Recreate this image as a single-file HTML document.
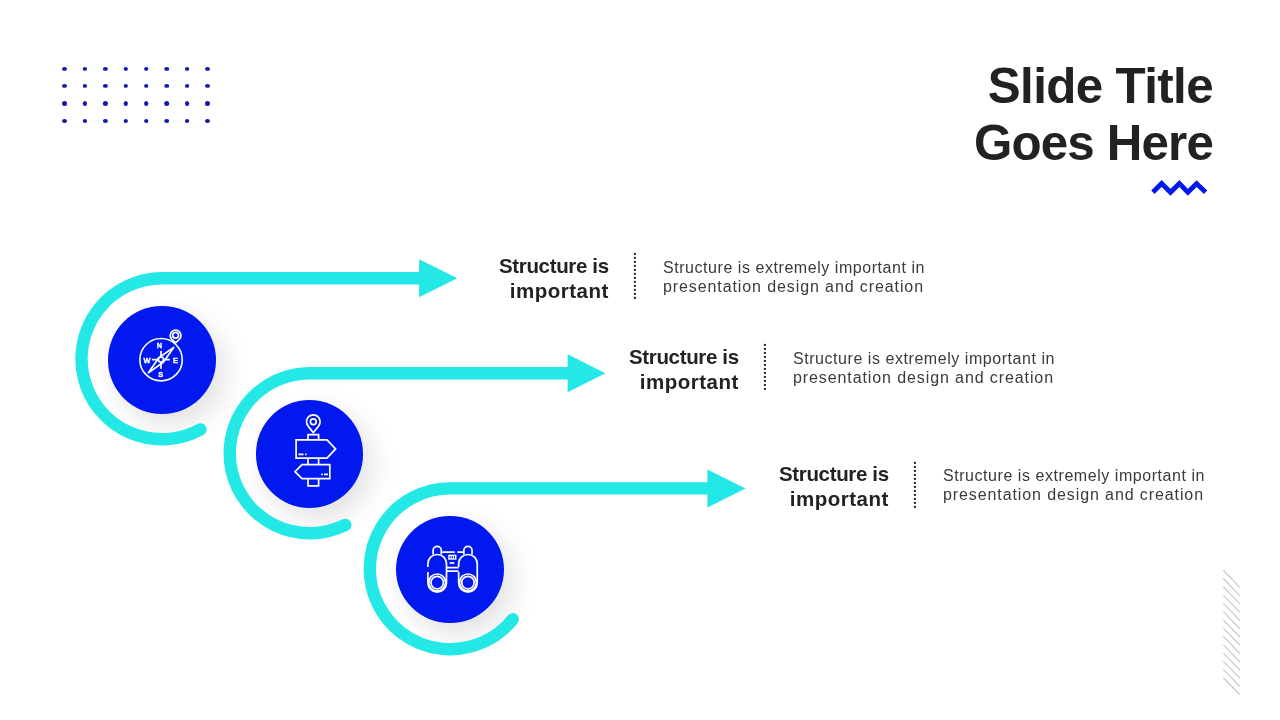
<!DOCTYPE html>
<html><head><meta charset="utf-8">
<style>
html,body{margin:0;padding:0;background:#fff;}
body{width:1280px;height:720px;position:relative;overflow:hidden;font-family:"Liberation Sans",sans-serif;}
.title,.bold,.reg{will-change:transform;}
.title{position:absolute;right:67.5px;top:57.4px;text-align:right;font-weight:bold;font-size:49.3px;line-height:57.2px;letter-spacing:-0.85px;color:#222;white-space:nowrap;}
.circ{position:absolute;width:107.5px;height:107.5px;border-radius:50%;background:#0119ee;box-shadow:9px 11px 28px rgba(0,0,0,0.12);}
.bold{position:absolute;text-align:right;font-weight:bold;font-size:20.5px;line-height:25.4px;color:#222;white-space:nowrap;}
.reg{position:absolute;font-size:16px;line-height:18.6px;color:#3a3a3a;white-space:nowrap;}
svg{position:absolute;left:0;top:0;}
</style></head>
<body>
<!-- dots grid -->
<svg width="1280" height="720" style="z-index:0">
  <g fill="#1317aa"><ellipse cx="64.5" cy="68.9" rx="2.5" ry="1.9"/><ellipse cx="84.9" cy="68.9" rx="2.1" ry="1.9"/><ellipse cx="105.4" cy="68.9" rx="2.5" ry="1.9"/><ellipse cx="125.8" cy="68.9" rx="2.1" ry="1.9"/><ellipse cx="146.2" cy="68.9" rx="2.1" ry="1.9"/><ellipse cx="166.7" cy="68.9" rx="2.5" ry="1.9"/><ellipse cx="187.1" cy="68.9" rx="2.1" ry="1.9"/><ellipse cx="207.5" cy="68.9" rx="2.5" ry="1.9"/><ellipse cx="64.5" cy="85.9" rx="2.5" ry="1.9"/><ellipse cx="84.9" cy="85.9" rx="2.1" ry="1.9"/><ellipse cx="105.4" cy="85.9" rx="2.5" ry="1.9"/><ellipse cx="125.8" cy="85.9" rx="2.1" ry="1.9"/><ellipse cx="146.2" cy="85.9" rx="2.1" ry="1.9"/><ellipse cx="166.7" cy="85.9" rx="2.5" ry="1.9"/><ellipse cx="187.1" cy="85.9" rx="2.1" ry="1.9"/><ellipse cx="207.5" cy="85.9" rx="2.5" ry="1.9"/><ellipse cx="64.5" cy="103.5" rx="2.5" ry="2.5"/><ellipse cx="84.9" cy="103.5" rx="2.1" ry="2.5"/><ellipse cx="105.4" cy="103.5" rx="2.5" ry="2.5"/><ellipse cx="125.8" cy="103.5" rx="2.1" ry="2.5"/><ellipse cx="146.2" cy="103.5" rx="2.1" ry="2.5"/><ellipse cx="166.7" cy="103.5" rx="2.5" ry="2.5"/><ellipse cx="187.1" cy="103.5" rx="2.1" ry="2.5"/><ellipse cx="207.5" cy="103.5" rx="2.5" ry="2.5"/><ellipse cx="64.5" cy="121.0" rx="2.5" ry="1.9"/><ellipse cx="84.9" cy="121.0" rx="2.1" ry="1.9"/><ellipse cx="105.4" cy="121.0" rx="2.5" ry="1.9"/><ellipse cx="125.8" cy="121.0" rx="2.1" ry="1.9"/><ellipse cx="146.2" cy="121.0" rx="2.1" ry="1.9"/><ellipse cx="166.7" cy="121.0" rx="2.5" ry="1.9"/><ellipse cx="187.1" cy="121.0" rx="2.1" ry="1.9"/><ellipse cx="207.5" cy="121.0" rx="2.5" ry="1.9"/></g>
  <!-- hatch -->
  <g stroke="#c9cdcd" stroke-width="1.3"><line x1="1223.3" y1="570.30" x2="1239.8" y2="587.40"/><line x1="1223.3" y1="578.56" x2="1239.8" y2="595.66"/><line x1="1223.3" y1="586.82" x2="1239.8" y2="603.92"/><line x1="1223.3" y1="595.08" x2="1239.8" y2="612.18"/><line x1="1223.3" y1="603.34" x2="1239.8" y2="620.44"/><line x1="1223.3" y1="611.60" x2="1239.8" y2="628.70"/><line x1="1223.3" y1="619.86" x2="1239.8" y2="636.96"/><line x1="1223.3" y1="628.12" x2="1239.8" y2="645.22"/><line x1="1223.3" y1="636.38" x2="1239.8" y2="653.48"/><line x1="1223.3" y1="644.64" x2="1239.8" y2="661.74"/><line x1="1223.3" y1="652.90" x2="1239.8" y2="670.00"/><line x1="1223.3" y1="661.16" x2="1239.8" y2="678.26"/><line x1="1223.3" y1="669.42" x2="1239.8" y2="686.52"/><line x1="1223.3" y1="677.68" x2="1239.8" y2="694.78"/></g>
  <!-- zigzag -->
  <polyline points="1152.9,192.2 1161.6,183.5 1170.5,192.3 1179.4,183.5 1187.9,192.3 1196.6,183.5 1205.6,192.2" fill="none" stroke="#0119ee" stroke-width="4.8" stroke-linejoin="miter"/>
</svg>

<div class="title"><span style="letter-spacing:-0.62px">Slide Title</span><br>Goes Here</div>

<div class="circ" style="left:108px;top:306.1px"></div>
<div class="circ" style="left:255.5px;top:400.2px"></div>
<div class="circ" style="left:396.3px;top:515.9px"></div>
<svg width="1280" height="720">
  <path d="M200.41,429.54 A80.5,80.5 0 1 1 162.00,278.30 L421.10,278.30" fill="none" stroke="#24e8e5" stroke-width="12.4" stroke-linecap="round"/>
  <polygon points="419.10,259.30 457.30,278.30 419.10,297.30" fill="#24e8e5"/>
  <path d="M345.27,524.91 A80,80 0 1 1 309.70,373.25 L569.60,373.25" fill="none" stroke="#24e8e5" stroke-width="12.4" stroke-linecap="round"/>
  <polygon points="567.60,354.25 605.40,373.25 567.60,392.25" fill="#24e8e5"/>
  <path d="M512.77,619.29 A80.4,80.4 0 1 1 450.20,488.40 L709.40,488.40" fill="none" stroke="#24e8e5" stroke-width="12.4" stroke-linecap="round"/>
  <polygon points="707.40,469.40 745.60,488.40 707.40,507.40" fill="#24e8e5"/>
</svg>

<svg width="1280" height="720" style="z-index:2" fill="none" stroke="#fff" stroke-width="1.7">
  <!-- compass -->
  <g><circle cx="161.05" cy="359.7" r="21.2" stroke-width="1.6"/><circle cx="160.9" cy="359.6" r="2.6"/><path d="M148.4,372.7 L158.8,357.8 L173.7,347.4 L163.3,362.3 Z" stroke-linejoin="round"/><path d="M161,350.9 V356 M161,363.2 V368.8 M151.9,359.7 H157.5 M164.2,359.7 H169.8"/><g fill="#fff" stroke="#fff" stroke-width="0.35" font-family="Liberation Sans" font-weight="bold" font-size="7.4" text-anchor="middle"><text x="159.5" y="348.1">N</text><text x="175.5" y="362.9">E</text><text x="160.6" y="377.3">S</text><text x="146.9" y="362.5">W</text></g><path d="M175.60,342.90 L171.91,339.44 A5.4,5.4 0 1 1 179.29,339.44 Z" stroke-linejoin="round"/><circle cx="175.6" cy="335.3" r="2.9"/></g>
  <g><path d="M313.30,432.70 L307.95,425.90 A6.8,6.8 0 1 1 318.65,425.90 Z" stroke-linejoin="round"/><circle cx="313.3" cy="421.7" r="2.9"/><path d="M308,439.9 V434.7 H318.6 V439.9"/><path d="M296.1,439.9 H327 L335.6,448.9 L327,458.1 H296.1 Z" stroke-linejoin="miter"/><path d="M308,458.1 V464.7 M318.6,458.1 V464.7"/><path d="M302,464.7 H329.8 V478.6 H302 L295,471.7 Z" stroke-linejoin="miter"/><path d="M308,478.6 V485.9 H318.6 V478.6"/><path d="M298.5,454.4 H303.5 M305,454.4 H306.5 M321.2,474.4 H322.7 M324,474.4 H328"/></g>
  <g><path d="M427.90,566.9 V563.8 A9.3,9.3 0 0 1 446.50,563.8 V582.8 A9.3,9.3 0 0 1 427.90,582.8 V571.9"/><circle cx="437.2" cy="582.4" r="8.4"/><circle cx="437.2" cy="582.6" r="6.2"/><path d="M433.10,554.5 V550.4 A4.1,4.1 0 0 1 441.30,550.4 V554.5"/><path d="M458.65,566.9 V563.8 A9.3,9.3 0 0 1 477.25,563.8 V582.8 A9.3,9.3 0 0 1 458.65,582.8 V571.9"/><circle cx="467.95" cy="582.4" r="8.4"/><circle cx="467.95" cy="582.6" r="6.2"/><path d="M463.85,554.5 V550.4 A4.1,4.1 0 0 1 472.05,550.4 V554.5"/><path d="M442.3,552.1 H454.7 M457.4,552.1 H463.5"/><rect x="448.9" y="555.4" width="6.8" height="3.6" stroke-width="1.4"/><path d="M451.2,555.4 V559 M453.4,555.4 V559" stroke-width="1"/><path d="M449.7,563 H454.3"/><path d="M446.5,567.7 H458.6 M446.5,571.2 H458.6"/></g>
</svg>

<div class="bold" style="right:671px;top:253.3px"><span style="letter-spacing:-0.35px">Structure is</span><br><span style="letter-spacing:0.5px">important</span></div>
<div class="reg" style="left:663px;top:259.4px"><span style="letter-spacing:0.55px">Structure is extremely important in</span><br><span style="letter-spacing:0.9px">presentation design and creation</span></div>

<div class="bold" style="right:541px;top:344.1px"><span style="letter-spacing:-0.35px">Structure is</span><br><span style="letter-spacing:0.5px">important</span></div>
<div class="reg" style="left:793px;top:350.2px"><span style="letter-spacing:0.55px">Structure is extremely important in</span><br><span style="letter-spacing:0.9px">presentation design and creation</span></div>

<div class="bold" style="right:391px;top:461.2px"><span style="letter-spacing:-0.35px">Structure is</span><br><span style="letter-spacing:0.5px">important</span></div>
<div class="reg" style="left:943px;top:467.2px"><span style="letter-spacing:0.55px">Structure is extremely important in</span><br><span style="letter-spacing:0.9px">presentation design and creation</span></div>

<svg width="1280" height="720" style="z-index:3"><g fill="#222"><rect x="633.9" y="252.9" width="2" height="2"/><rect x="633.9" y="256.9" width="2" height="2"/><rect x="633.9" y="260.9" width="2" height="2"/><rect x="633.9" y="264.9" width="2" height="2"/><rect x="633.9" y="268.9" width="2" height="2"/><rect x="633.9" y="272.9" width="2" height="2"/><rect x="633.9" y="276.9" width="2" height="2"/><rect x="633.9" y="280.9" width="2" height="2"/><rect x="633.9" y="284.9" width="2" height="2"/><rect x="633.9" y="288.9" width="2" height="2"/><rect x="633.9" y="292.9" width="2" height="2"/><rect x="633.9" y="296.9" width="2" height="2"/><rect x="763.9" y="343.9" width="2" height="2"/><rect x="763.9" y="347.9" width="2" height="2"/><rect x="763.9" y="351.9" width="2" height="2"/><rect x="763.9" y="355.9" width="2" height="2"/><rect x="763.9" y="359.9" width="2" height="2"/><rect x="763.9" y="363.9" width="2" height="2"/><rect x="763.9" y="367.9" width="2" height="2"/><rect x="763.9" y="371.9" width="2" height="2"/><rect x="763.9" y="375.9" width="2" height="2"/><rect x="763.9" y="379.9" width="2" height="2"/><rect x="763.9" y="383.9" width="2" height="2"/><rect x="763.9" y="387.9" width="2" height="2"/><rect x="913.9" y="461.9" width="2" height="2"/><rect x="913.9" y="465.9" width="2" height="2"/><rect x="913.9" y="469.9" width="2" height="2"/><rect x="913.9" y="473.9" width="2" height="2"/><rect x="913.9" y="477.9" width="2" height="2"/><rect x="913.9" y="481.9" width="2" height="2"/><rect x="913.9" y="485.9" width="2" height="2"/><rect x="913.9" y="489.9" width="2" height="2"/><rect x="913.9" y="493.9" width="2" height="2"/><rect x="913.9" y="497.9" width="2" height="2"/><rect x="913.9" y="501.9" width="2" height="2"/><rect x="913.9" y="505.9" width="2" height="2"/></g></svg>
</body></html>
